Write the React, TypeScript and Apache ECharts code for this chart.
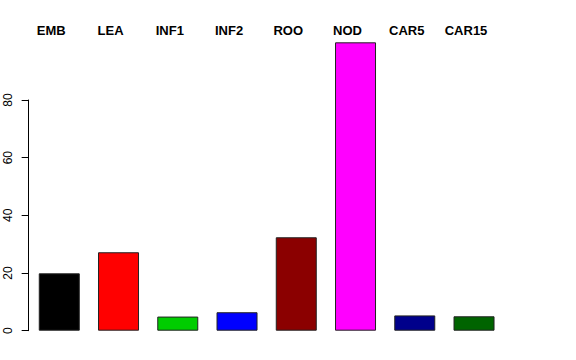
import React, { useEffect, useRef } from "react";
import * as echarts from "echarts";

const categories = ["EMB", "LEA", "INF1", "INF2", "ROO", "NOD", "CAR5", "CAR15"];
const values = [19.9, 27.2, 4.9, 6.4, 32.4, 100, 5.3, 5.0];
const barColors = ["#000000", "#FF0000", "#00CD00", "#0000FF", "#8B0000", "#FF00FF", "#00008B", "#006400"];
const yTicks = { min: 0, max: 80, interval: 20 };

export default function App() {
  const ref = useRef<HTMLDivElement>(null);
  useEffect(() => {
    if (!ref.current) return;
    const chart = echarts.init(ref.current, null, { renderer: "svg" });
    const font = "'Liberation Sans', Arial, Helvetica, sans-serif";
    chart.setOption({
      animation: false,
      backgroundColor: "#ffffff",
      grid: [
        { left: 29.65, right: 72.35, top: 100, bottom: 29.3, containLabel: false },
        { left: 21.65, right: 80.35, top: 100, bottom: 29.3, containLabel: false },
      ],
      xAxis: [
        {
          type: "category",
          gridIndex: 0,
          data: categories,
          axisLine: { show: false },
          axisTick: { show: false },
          axisLabel: { show: false },
          splitLine: { show: false },
        },
        {
          type: "category",
          gridIndex: 1,
          position: "top",
          data: categories,
          axisLine: { show: false },
          axisTick: { show: false },
          splitLine: { show: false },
          axisLabel: {
            show: true,
            align: "center",
            margin: 63,
            fontFamily: font,
            fontSize: 13,
            fontWeight: "bold",
            color: "#000000",
          },
        },
      ],
      yAxis: [
        {
          type: "value",
          gridIndex: 0,
          min: yTicks.min,
          max: yTicks.max,
          interval: yTicks.interval,
          offset: 1,
          axisLine: { show: true, lineStyle: { color: "#000000", width: 1 } },
          axisTick: { show: true, inside: false, length: 7, lineStyle: { color: "#000000", width: 1 } },
          splitLine: { show: false },
          axisLabel: {
            rotate: 90,
            margin: 15,
            fontFamily: font,
            fontSize: 12,
            color: "#000000",
          },
        },
        { type: "value", gridIndex: 1, show: false, min: 0, max: 80 },
      ],
      series: [
        {
          type: "bar",
          xAxisIndex: 0,
          yAxisIndex: 0,
          clip: false,
          barWidth: 41,
          data: values.map((v, i) => ({
            value: v,
            itemStyle: { color: barColors[i], borderColor: "#222222", borderWidth: 1 },
          })),
        },
      ],
    });
    return () => chart.dispose();
  }, []);
  return (
    <div
      ref={ref}
      style={{ position: "fixed", left: 0, top: 0, width: 576, height: 360, background: "#fff" }}
    />
  );
}
